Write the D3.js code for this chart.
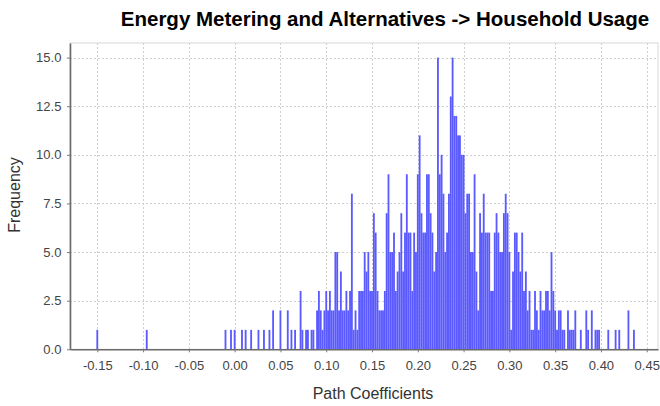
<!DOCTYPE html>
<html>
<head>
<meta charset="utf-8">
<script src="https://cdn.jsdelivr.net/npm/d3@7"></script>
<style>
  html, body { margin: 0; padding: 0; background: #fff; }
  svg { display: block; font-family: "Liberation Sans", Arial, sans-serif; }
</style>
</head>
<body>
<svg id="chart" width="660" height="406"></svg>
<script>
// Bootstrap histogram of path coefficients: equal-width bins starting at binStart.
const binStart = -0.151;
const binWidth = 0.002;
const counts = [
  1,0,0,0,0,0,0,0,0,0, 0,0,0,0,0,0,0,0,0,0,   // 0-19
  0,0,0,0,0,0,0,1,0,0, 0,0,0,0,0,0,0,0,0,0,   // 20-39
  0,0,0,0,0,0,0,0,0,0, 0,0,0,0,0,0,0,0,0,0,   // 40-59
  0,0,0,0,0,0,0,0,0,0, 1,0,0,1,0,1,0,0,0,1,   // 60-79
  0,1,0,0,1,0,0,0,1,0, 0,1,0,0,1,0,2,0,0,0,   // 80-99
  2,0,0,0,2,0,1,0,1,0, 0,3,1,0,1,1,0,1,1,0,   // 100-119
  2,3,2,1,2,3,2,3,2,2, 5,5,2,4,2,2,3,2,3,8,   // 120-139
  1,2,1,3,3,3,5,4,5,3, 3,7,6,3,2,2,2,3,7,9,   // 140-159
  5,5,6,3,4,5,7,4,6,9, 6,6,3,6,5,9,11,7,6,6,  // 160-179
  9,9,7,6,4,5,15,9,10,8, 5,6,8,13,15,12,12,11,11,10, // 180-199
  10,7,8,8,5,5,9,4,2,7, 6,8,6,6,6,3,3,6,7,6,  // 200-219
  5,5,7,8,7,5,1,4,6,6, 5,4,6,3,4,2,3,1,1,3,   // 220-239
  2,1,3,2,2,3,3,2,5,3, 2,1,2,2,1,1,0,2,1,1,   // 240-259
  1,2,0,0,1,0,0,2,1,0, 2,0,1,1,1,0,0,0,0,1,   // 260-279
  0,0,0,1,0,1,0,0,0,0, 2,0,0,1,0              // 280-294
];

const xTicks = [-0.15, -0.10, -0.05, 0.00, 0.05, 0.10, 0.15, 0.20, 0.25, 0.30, 0.35, 0.40, 0.45];
const yTicks = [0, 2.5, 5, 7.5, 10, 12.5, 15];

const titleText = "Energy Metering and Alternatives -> Household Usage";
const xLabel = "Path Coefficients";
const yLabel = "Frequency";

const bins = counts.map((c, i) => ({
  x0: binStart + i * binWidth,
  x1: binStart + (i + 1) * binWidth,
  count: c
}));

const plot = { left: 70, right: 658, top: 43, bottom: 349.3 };

const svg = d3.select("#chart");

const x = d3.scaleLinear().domain([-0.1798, 0.4623]).range([plot.left, plot.right]);
const y = d3.scaleLinear().domain([0, 15.75]).range([plot.bottom, plot.top]);

// gridlines
const grid = svg.append("g").attr("stroke", "#cfcfcf").attr("stroke-width", 1)
  .attr("stroke-dasharray", "2,2");
grid.selectAll("line.v").data(xTicks).join("line")
  .attr("x1", d => Math.round(x(d)) + 0.5).attr("x2", d => Math.round(x(d)) + 0.5)
  .attr("y1", plot.top).attr("y2", plot.bottom);
grid.selectAll("line.h").data(yTicks.filter(d => d > 0)).join("line")
  .attr("y1", d => Math.round(y(d)) + 0.5).attr("y2", d => Math.round(y(d)) + 0.5)
  .attr("x1", plot.left).attr("x2", plot.right);

// plot outline
svg.append("rect")
  .attr("x", plot.left).attr("y", plot.top)
  .attr("width", plot.right - plot.left).attr("height", plot.bottom - plot.top)
  .attr("fill", "none").attr("stroke", "#d8d8d8");

// bars
svg.append("g").attr("fill", "#5a5aff")
  .selectAll("rect").data(bins.filter(b => b.count > 0)).join("rect")
  .attr("x", d => x(d.x0))
  .attr("width", d => x(d.x1) - x(d.x0))
  .attr("y", d => y(d.count))
  .attr("height", d => y(0) - y(d.count));

// axes
const xAxis = d3.axisBottom(x).tickValues(xTicks).tickFormat(d3.format(".2f"))
  .tickSize(3).tickSizeOuter(0);
const yAxis = d3.axisLeft(y).tickValues(yTicks).tickFormat(d3.format(".1f"))
  .tickSize(3).tickSizeOuter(0);

const gx = svg.append("g").attr("transform", `translate(0,${plot.bottom})`).call(xAxis);
const gy = svg.append("g").attr("transform", `translate(${plot.left},0)`).call(yAxis);

[gx, gy].forEach(g => {
  g.select(".domain").attr("stroke", "#6a6a6a").attr("stroke-width", 1.6);
  g.selectAll(".tick line").attr("stroke", "#7a7a7a");
  g.selectAll(".tick text").attr("fill", "#444").attr("font-size", 13)
    .attr("font-family", "'Liberation Sans', Arial, sans-serif");
});
gx.selectAll(".tick text").attr("dy", "1.15em");
gx.selectAll(".tick text").text(d => d3.format(".2f")(d).replace("−", "-"));
gy.selectAll(".tick text").attr("dx", "-0.2em");

// title and axis labels
svg.append("text")
  .attr("x", 385).attr("y", 26)
  .attr("text-anchor", "middle")
  .attr("font-size", 20.5).attr("font-weight", "bold").attr("fill", "#000")
  .text(titleText);

svg.append("text")
  .attr("x", 373).attr("y", 399)
  .attr("text-anchor", "middle")
  .attr("font-size", 16).attr("fill", "#333")
  .text(xLabel);

svg.append("text")
  .attr("transform", "translate(20,195) rotate(-90)")
  .attr("text-anchor", "middle")
  .attr("font-size", 16).attr("fill", "#333")
  .text(yLabel);
</script>
</body>
</html>
